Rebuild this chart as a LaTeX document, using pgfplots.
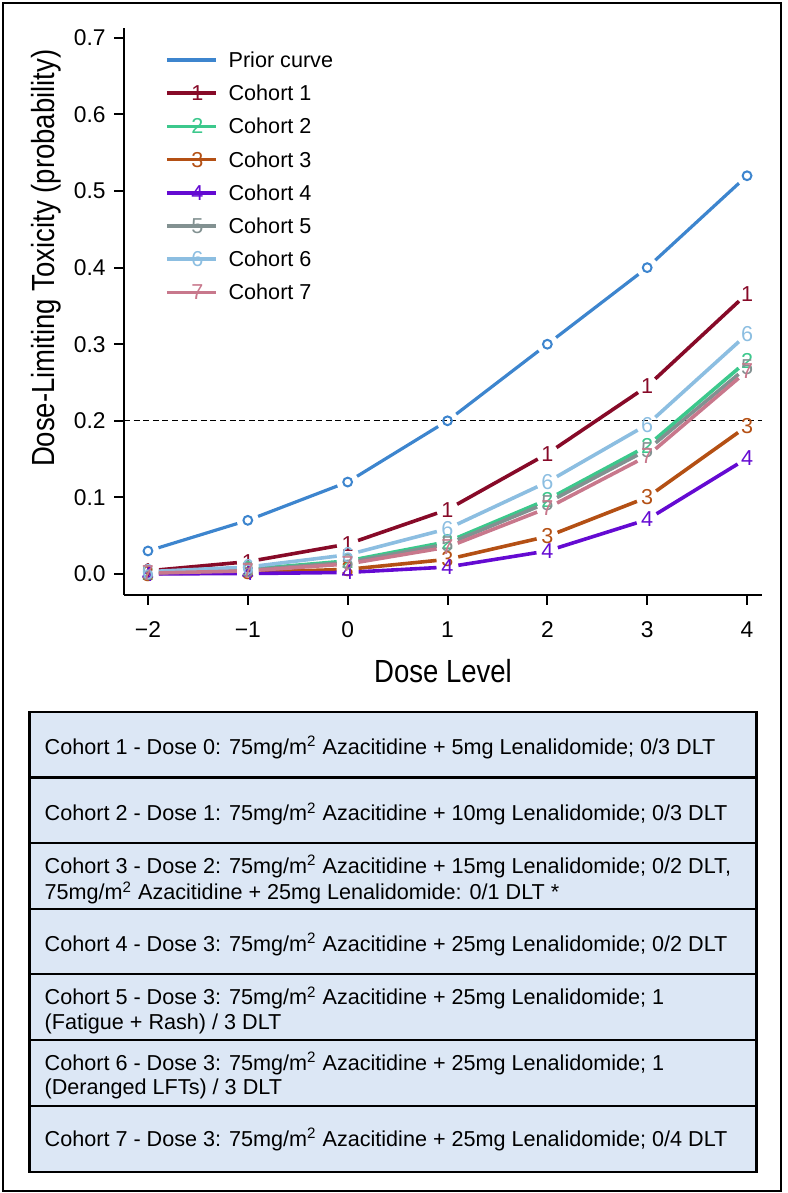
\documentclass[border=0pt]{standalone}
\usepackage{pgfplots}
\pgfplotsset{compat=1.18}
\usepackage{pgfplotstable}
\usepackage{fontspec}
\setmainfont{Liberation Sans}
\newfontfamily\condfont[FakeStretch=0.86]{Liberation Sans}
\definecolor{cP}{RGB}{61,133,206}
\definecolor{cA}{RGB}{135,10,40}
\definecolor{cB}{RGB}{60,200,140}
\definecolor{cC}{RGB}{180,80,20}
\definecolor{cD}{RGB}{100,10,210}
\definecolor{cE}{RGB}{130,145,145}
\definecolor{cF}{RGB}{140,190,225}
\definecolor{cG}{RGB}{200,120,140}
\definecolor{boxfill}{RGB}{220,231,245}
\newcommand{\lab}{\fontsize{10.8}{12}\selectfont}

\pgfplotstableread{
x y
-2 0.030
-1 0.070
0 0.120
1 0.200
2 0.300
3 0.400
4 0.520
}\tP
\pgfplotstableread{
x y
-2 0.004
-1 0.016
0 0.039
1 0.084
2 0.157
3 0.245
4 0.366
}\tA
\pgfplotstableread{
x y
-2 0.0015
-1 0.006
0 0.017
1 0.042
2 0.097
3 0.167
4 0.278
}\tB
\pgfplotstableread{
x y
-2 0.0004
-1 0.002
0 0.006
1 0.019
2 0.049
3 0.100
4 0.193
}\tC
\pgfplotstableread{
x y
-2 0.0001
-1 0.0005
0 0.002
1 0.009
2 0.030
3 0.071
4 0.151
}\tD
\pgfplotstableread{
x y
-2 0.0013
-1 0.005
0 0.015
1 0.039
2 0.093
3 0.162
4 0.270
}\tE
\pgfplotstableread{
x y
-2 0.003
-1 0.009
0 0.025
1 0.059
2 0.120
3 0.195
4 0.313
}\tF
\pgfplotstableread{
x y
-2 0.001
-1 0.004
0 0.013
1 0.035
2 0.086
3 0.154
4 0.265
}\tG
\pgfplotstablecreatecol[create col/expr={\nextrow{y}-\thisrow{y}}]{dy}\tP
\pgfplotstablecreatecol[create col/expr={\nextrow{y}-\thisrow{y}}]{dy}\tA
\pgfplotstablecreatecol[create col/expr={\nextrow{y}-\thisrow{y}}]{dy}\tB
\pgfplotstablecreatecol[create col/expr={\nextrow{y}-\thisrow{y}}]{dy}\tC
\pgfplotstablecreatecol[create col/expr={\nextrow{y}-\thisrow{y}}]{dy}\tD
\pgfplotstablecreatecol[create col/expr={\nextrow{y}-\thisrow{y}}]{dy}\tE
\pgfplotstablecreatecol[create col/expr={\nextrow{y}-\thisrow{y}}]{dy}\tF
\pgfplotstablecreatecol[create col/expr={\nextrow{y}-\thisrow{y}}]{dy}\tG

\pgfplotsset{
  seg/.style={forget plot, line width=#1,
    quiver={u=1, v=\thisrow{dy},
      every arrow/.append style={shorten <=5.5pt, shorten >=5.5pt}},
    skip coords between index={6}{7}},
  lbl/.style n args={2}{forget plot, only marks, mark=text, text mark={#2},
    text mark as node=true,
    text mark style={font=\lab, inner sep=0pt, text=#1}, color=#1},
}

\begin{document}
\begin{tikzpicture}
\path[use as bounding box] (0pt,0pt) rectangle (393.5pt,596.5pt);
\begin{axis}[
  at={(62pt,299pt)}, anchor=south west,
  scale only axis, width=319pt, height=283.5pt,
  xmin=-2.24, xmax=4.15, ymin=-0.0275, ymax=0.713,
  axis x line*=bottom, axis y line*=left,
  axis line style={line width=1.2pt, -},
  xtick={-2,-1,0,1,2,3,4},
  xticklabels={−2,−1,0,1,2,3,4},
  ytick={0,0.1,0.2,0.3,0.4,0.5,0.6,0.7},
  /pgf/number format/assume math mode=true,
  yticklabel style={/pgf/number format/fixed, /pgf/number format/fixed zerofill, /pgf/number format/precision=1},
  tick align=outside, major tick length=5pt,
  tick style={line width=1pt, black},
  ticklabel style={font=\fontsize{11.4}{12}\selectfont, inner sep=0pt},
  xticklabel shift=8.3pt,
  yticklabel shift=4pt,
  xlabel={Dose Level},
  ylabel={Dose-Limiting Toxicity (probability)},
  xlabel style={at={(axis description cs:0.5,-0.1547)}, anchor=base, inner sep=0pt,
    font=\condfont\fontsize{16}{18}\selectfont},
  ylabel style={at={(axis description cs:-0.1082,0.594)}, anchor=base, inner sep=0pt,
    font=\condfont\fontsize{16}{18}\selectfont},
  legend style={at={(axis description cs:0.0643,0.957)}, anchor=north west,
    draw=none, fill=none, inner sep=0pt, outer sep=0pt,
    row sep=9pt, column sep=5.5pt, font=\lab,
    nodes={inner sep=0pt, text height=7.6pt, text depth=0pt}},
  legend cell align=left,
]
\addplot[forget plot, black, line width=0.7pt, dash pattern=on 3pt off 1.8pt]
  coordinates {(-2.24,0.2) (4.15,0.2)};

\addplot[cP, seg=1.6pt] table[x=x,y=y]{\tP};
\addplot[forget plot, cP, only marks, mark=o, mark size=2.2pt, mark options={line width=1pt}] table[x=x,y=y]{\tP};

\addplot[cA, seg=1.8pt] table[x=x,y=y]{\tA};
\addplot[lbl={cA}{1}] table[x=x,y=y]{\tA};
\addplot[cB, seg=1.8pt] table[x=x,y=y]{\tB};
\addplot[lbl={cB}{2}] table[x=x,y=y]{\tB};
\addplot[cC, seg=1.8pt] table[x=x,y=y]{\tC};
\addplot[lbl={cC}{3}] table[x=x,y=y]{\tC};
\addplot[cD, seg=1.8pt] table[x=x,y=y]{\tD};
\addplot[lbl={cD}{4}] table[x=x,y=y]{\tD};
\addplot[cE, seg=1.8pt] table[x=x,y=y]{\tE};
\addplot[lbl={cE}{5}] table[x=x,y=y]{\tE};
\addplot[cF, seg=1.8pt] table[x=x,y=y]{\tF};
\addplot[lbl={cF}{6}] table[x=x,y=y]{\tF};
\addplot[cG, seg=1.8pt] table[x=x,y=y]{\tG};
\addplot[lbl={cG}{7}] table[x=x,y=y]{\tG};

\addlegendimage{legend image code/.code={\draw[cP, line width=1.6pt] (0pt,0pt) -- (24.5pt,0pt);}}
\addlegendentry{Prior curve}
\addlegendimage{legend image code/.code={\draw[cA, line width=1.8pt] (0pt,0pt) -- (24.5pt,0pt); \node[text=cA, font=\lab, inner sep=0pt] at (12.25pt,0pt) {1};}}
\addlegendentry{Cohort 1}
\addlegendimage{legend image code/.code={\draw[cB, line width=1.8pt] (0pt,0pt) -- (24.5pt,0pt); \node[text=cB, font=\lab, inner sep=0pt] at (12.25pt,0pt) {2};}}
\addlegendentry{Cohort 2}
\addlegendimage{legend image code/.code={\draw[cC, line width=1.8pt] (0pt,0pt) -- (24.5pt,0pt); \node[text=cC, font=\lab, inner sep=0pt] at (12.25pt,0pt) {3};}}
\addlegendentry{Cohort 3}
\addlegendimage{legend image code/.code={\draw[cD, line width=1.8pt] (0pt,0pt) -- (24.5pt,0pt); \node[text=cD, font=\lab, inner sep=0pt] at (12.25pt,0pt) {4};}}
\addlegendentry{Cohort 4}
\addlegendimage{legend image code/.code={\draw[cE, line width=1.8pt] (0pt,0pt) -- (24.5pt,0pt); \node[text=cE, font=\lab, inner sep=0pt] at (12.25pt,0pt) {5};}}
\addlegendentry{Cohort 5}
\addlegendimage{legend image code/.code={\draw[cF, line width=1.8pt] (0pt,0pt) -- (24.5pt,0pt); \node[text=cF, font=\lab, inner sep=0pt] at (12.25pt,0pt) {6};}}
\addlegendentry{Cohort 6}
\addlegendimage{legend image code/.code={\draw[cG, line width=1.8pt] (0pt,0pt) -- (24.5pt,0pt); \node[text=cG, font=\lab, inner sep=0pt] at (12.25pt,0pt) {7};}}
\addlegendentry{Cohort 7}
\end{axis}

\begin{scope}[x=0.5pt,y=0.5pt]
\draw[line width=1pt] (3,2) rectangle (781,1190);
\foreach \top/\bot in {481/415.5, 415.5/350, 350/284, 284/219, 219/153, 153/87, 87/21}{
  \draw[fill=boxfill, line width=1.4pt] (29.3,\bot) rectangle (756.7,\top);
}
\begin{scope}[every node/.style={anchor=base west, inner sep=0pt, font=\lab}]
\node at (44.3,438.7) {Cohort 1 - Dose 0: 75mg/m\textsuperscript{2} Azacitidine + 5mg Lenalidomide; 0/3 DLT};
\node at (44.3,372) {Cohort 2 - Dose 1: 75mg/m\textsuperscript{2} Azacitidine + 10mg Lenalidomide; 0/3 DLT};
\node at (44.3,319.7) {Cohort 3 - Dose 2: 75mg/m\textsuperscript{2} Azacitidine + 15mg Lenalidomide; 0/2 DLT,};
\node at (44.3,293) {75mg/m\textsuperscript{2} Azacitidine + 25mg Lenalidomide: 0/1 DLT *};
\node at (44.3,241.3) {Cohort 4 - Dose 3: 75mg/m\textsuperscript{2} Azacitidine + 25mg Lenalidomide; 0/2 DLT};
\node at (44.3,188) {Cohort 5 - Dose 3: 75mg/m\textsuperscript{2} Azacitidine + 25mg Lenalidomide; 1};
\node at (44.3,163) {(Fatigue + Rash) / 3 DLT};
\node at (44.3,122.3) {Cohort 6 - Dose 3: 75mg/m\textsuperscript{2} Azacitidine + 25mg Lenalidomide; 1};
\node at (44.3,98) {(Deranged LFTs) / 3 DLT};
\node at (44.3,46.3) {Cohort 7 - Dose 3: 75mg/m\textsuperscript{2} Azacitidine + 25mg Lenalidomide; 0/4 DLT};
\end{scope}
\end{scope}
\end{tikzpicture}
\end{document}
